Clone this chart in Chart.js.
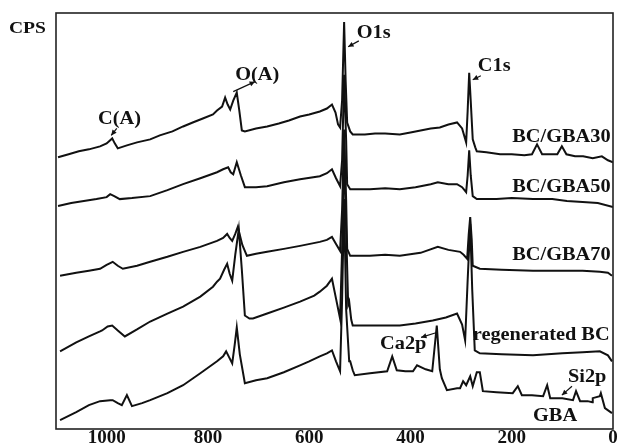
<!DOCTYPE html>
<html>
<head>
<meta charset="utf-8">
<script src="https://cdn.jsdelivr.net/npm/chart.js@4/dist/chart.umd.min.js"></script>
<style>
  html, body { margin: 0; padding: 0; background: #fff; }
  canvas { display: block; }
</style>
</head>
<body>
<canvas id="xps" width="618" height="448"></canvas>
<script>
// binding energy (eV) and intensity (a.u.)
const gba30E = [1096, 1075, 1055, 1035, 1013, 1000, 989, 984, 978, 960, 940, 914, 895, 870, 849, 830, 810, 790, 782, 772, 766, 761, 756, 750, 743, 738, 733, 727, 705, 683, 660, 640, 618, 600, 579, 565, 555, 548, 543, 539, 535, 531, 528, 525, 519, 514, 490, 470, 450, 421, 400, 380, 360, 342, 325, 308, 298, 290, 287, 284, 281, 277, 272, 269, 250, 223, 200, 175, 160, 150, 140, 120, 110, 101, 92, 75, 59, 40, 22, 10, 0]
const gba30I = [273, 276, 279, 281, 284, 287, 292, 287, 282, 285, 288, 291, 295, 299, 304, 308, 312, 316, 320, 324, 333, 326, 321, 330, 338, 320, 300, 299, 302, 304, 307, 310, 314, 316, 319, 322, 326, 318, 306, 303, 330, 409, 350, 308, 299, 296, 296, 297, 297, 296, 298, 300, 302, 303, 306, 308, 302, 288, 320, 358, 330, 291, 283, 279, 278, 276, 276, 275, 276, 286, 276, 276, 276, 284, 276, 274, 274, 272, 274, 270, 268]

const gba50E = [1096, 1070, 1045, 1020, 1000, 993, 985, 974, 950, 914, 880, 849, 815, 782, 770, 760, 755, 750, 743, 735, 727, 705, 683, 650, 618, 579, 565, 555, 547, 539, 535, 531, 527, 525, 519, 480, 450, 421, 390, 360, 346, 325, 308, 298, 290, 287, 284, 281, 277, 269, 230, 200, 158, 120, 91, 60, 30, 0]
const gba50I = [224, 227, 229, 231, 233, 236, 234, 231, 232, 234, 240, 246, 252, 258, 261, 263, 258, 256, 268, 255, 243, 243, 244, 248, 251, 254, 257, 261, 252, 244, 270, 356, 290, 246, 241, 241, 242, 241, 243, 246, 248, 246, 246, 243, 238, 255, 280, 255, 234, 231, 231, 232, 231, 231, 229, 228, 227, 223]

const gba70E = [1092, 1060, 1035, 1013, 1000, 988, 978, 968, 940, 914, 880, 849, 815, 782, 770, 762, 757, 752, 746, 741, 732, 723, 705, 683, 650, 618, 579, 565, 555, 547, 539, 535, 531, 527, 525, 519, 480, 450, 421, 380, 346, 325, 302, 295, 288, 285, 282, 279, 277, 263, 220, 158, 100, 60, 26, 10, 2]
const gba70I = [154, 157, 159, 161, 165, 168, 164, 161, 164, 168, 173, 178, 183, 189, 192, 196, 192, 189, 196, 203, 185, 174, 176, 178, 181, 184, 188, 190, 193, 186, 179, 220, 301, 230, 181, 174, 174, 175, 174, 177, 183, 180, 178, 175, 171, 195, 213, 190, 164, 161, 160, 159, 159, 159, 158, 157, 154]

const regenE = [1092, 1060, 1035, 1013, 1009, 998, 989, 978, 964, 940, 914, 880, 849, 815, 790, 782, 776, 768, 762, 757, 752, 746, 739, 733, 727, 718, 711, 683, 650, 618, 590, 579, 565, 555, 547, 539, 535, 531, 527, 523, 521, 517, 514, 470, 421, 390, 356, 330, 308, 298, 292, 287, 282, 278, 273, 263, 220, 158, 100, 60, 26, 10, 2]
const regenI = [78, 87, 93, 98, 99, 103, 104, 99, 93, 100, 108, 116, 123, 133, 143, 148, 151, 160, 166, 156, 149, 175, 201, 160, 114, 111, 111, 116, 122, 128, 134, 138, 144, 151, 131, 111, 180, 281, 200, 125, 128, 110, 104, 104, 104, 106, 109, 112, 116, 105, 89, 150, 206, 140, 79, 76, 75, 74, 76, 77, 78, 74, 68]

const gbaE = [1092, 1060, 1035, 1013, 993, 988, 978, 970, 960, 950, 930, 914, 880, 849, 815, 782, 770, 764, 758, 752, 747, 743, 737, 727, 705, 683, 650, 618, 600, 579, 565, 555, 547, 539, 535, 531, 527, 521, 519, 514, 510, 480, 446, 436, 427, 410, 395, 387, 370, 357, 348, 342, 338, 328, 308, 302, 296, 290, 282, 277, 269, 263, 257, 230, 198, 188, 180, 160, 138, 130, 124, 100, 79, 73, 65, 50, 41, 40, 26, 24, 16, 2]
const gbaI = [9, 17, 24, 28, 29, 29, 26, 24, 34, 23, 26, 29, 36, 44, 56, 68, 73, 78, 72, 66, 85, 102, 75, 46, 49, 51, 57, 64, 68, 73, 76, 79, 68, 58, 130, 231, 120, 68, 68, 59, 54, 56, 58, 73, 59, 58, 58, 64, 60, 58, 104, 60, 51, 39, 41, 41, 48, 44, 53, 43, 57, 57, 38, 37, 36, 43, 34, 34, 33, 44, 31, 31, 29, 38, 28, 28, 27, 31, 33, 36, 21, 16]

const xTicks = [1000, 800, 600, 400, 200, 0]

// peak labels: [text, energy, intensity] ; arrows: [fromE, fromI, toE, toI]
const labels = [
  ['C(A)', 1017, 306], ['O(A)', 746, 351], ['O1s', 506, 393], ['C1s', 267, 360],
  ['BC/GBA30', 199, 288], ['BC/GBA50', 199, 238], ['BC/GBA70', 199, 170],
  ['regenerated BC', 277, 89], ['Ca2p', 460, 80], ['Si2p', 89, 47], ['GBA', 158, 8]
]
const arrows = [
  [980, 302, 991, 295], [750, 339, 707, 349], [502, 390, 523, 384],
  [261, 355, 277, 351], [348, 97, 379, 92], [81, 43, 101, 34]
]

const serif = '"Liberation Serif", "Times New Roman", serif'

function series (xs, ys) {
  return {
    data: xs.map((x, i) => ({ x: x, y: ys[i] })),
    borderColor: '#111',
    borderWidth: 2,
    pointRadius: 0,
    tension: 0,
    fill: false
  }
}

const decor = {
  id: 'decor',
  afterDraw (chart) {
    const ctx = chart.ctx
    const a = chart.chartArea
    const sx = chart.scales.x
    const sy = chart.scales.y
    ctx.save()
    ctx.strokeStyle = '#222'
    ctx.lineWidth = 1.6
    ctx.strokeRect(a.left, a.top, a.right - a.left, a.bottom - a.top)

    ctx.fillStyle = '#111'
    ctx.font = 'bold 17px ' + serif
    ctx.textBaseline = 'alphabetic'
    ctx.save()
    ctx.translate(9, 33)
    ctx.scale(1.15, 1)
    ctx.fillText('CPS', 0, 0)
    ctx.restore()

    ctx.font = 'bold 18px ' + serif
    labels.forEach(([t, e, v]) => {
      ctx.save()
      ctx.translate(sx.getPixelForValue(e), sy.getPixelForValue(v))
      ctx.scale(1.13, 1)
      ctx.fillText(t, 0, 0)
      ctx.restore()
    })

    ctx.strokeStyle = '#111'
    ctx.lineWidth = 1.2
    arrows.forEach(([e1, v1, e2, v2]) => {
      const x1 = sx.getPixelForValue(e1)
      const y1 = sy.getPixelForValue(v1)
      const x2 = sx.getPixelForValue(e2)
      const y2 = sy.getPixelForValue(v2)
      const ang = Math.atan2(y2 - y1, x2 - x1)
      ctx.beginPath()
      ctx.moveTo(x1, y1)
      ctx.lineTo(x2, y2)
      ctx.stroke()
      ctx.beginPath()
      ctx.moveTo(x2, y2)
      ctx.lineTo(x2 - 6 * Math.cos(ang - 0.45), y2 - 6 * Math.sin(ang - 0.45))
      ctx.lineTo(x2 - 6 * Math.cos(ang + 0.45), y2 - 6 * Math.sin(ang + 0.45))
      ctx.closePath()
      ctx.fill()
    })
    ctx.restore()
  }
}

new Chart(document.getElementById('xps'), {
  type: 'line',
  data: {
    datasets: [
      series(gba30E, gba30I),
      series(gba50E, gba50I),
      series(gba70E, gba70I),
      series(regenE, regenI),
      series(gbaE, gbaI)
    ]
  },
  options: {
    responsive: false,
    animation: false,
    devicePixelRatio: 1,
    layout: { padding: { left: 56, top: 13, right: 5, bottom: 0 } },
    plugins: { legend: { display: false }, tooltip: { enabled: false } },
    scales: {
      x: {
        type: 'linear',
        reverse: true,
        min: 0,
        max: 1100,
        border: { display: false },
        grid: { display: false, drawTicks: false },
        afterBuildTicks: (axis) => { axis.ticks = xTicks.map(v => ({ value: v })) },
        ticks: {
          padding: 0,
          color: '#111',
          maxRotation: 0,
          autoSkip: false,
          callback: (v) => String(v),
          font: { family: serif, size: 19, weight: 'bold', lineHeight: 1 }
        }
      },
      y: {
        display: false,
        min: 0,
        max: 418
      }
    }
  },
  plugins: [decor]
})
</script>
</body>
</html>
